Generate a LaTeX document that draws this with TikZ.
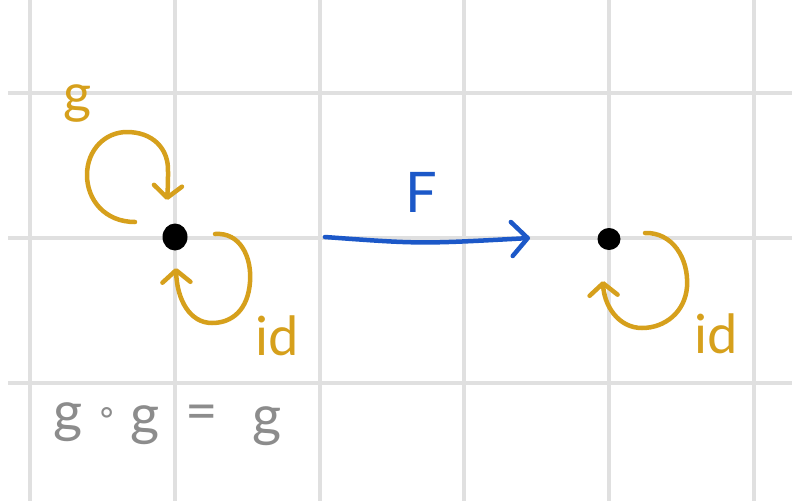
\documentclass[tikz,border=0pt]{standalone}
\usepackage{fontspec}
\setmainfont{Lato}
\newfontfamily\symfont{DejaVu Sans}
\usetikzlibrary{arrows.meta}
\definecolor{gold}{RGB}{214,160,28}
\definecolor{penblue}{RGB}{28,88,200}
\definecolor{pengray}{RGB}{140,140,140}
\definecolor{gridgray}{RGB}{224,224,224}
\tikzset{
  gridline/.style={draw=gridgray, line width=4pt},
  dot/.style={ellipse, fill=black, inner sep=0pt},
  loopline/.style={draw=gold, line width=4.5pt, line cap=round, line join=round,
    -{Straight Barb[length=12pt, width=28pt, line width=4.5pt, round]}},
  farrow/.style={draw=penblue, line width=4.5pt, line cap=round,
    -{Straight Barb[length=16pt, width=34pt, line width=4.5pt, round]}},
  goldlabel/.style={text=gold, font=\fontsize{54}{54}\selectfont, inner sep=0pt},
  graytext/.style={text=pengray, font=\fontsize{56}{56}\selectfont, inner sep=0pt},
}
\usetikzlibrary{shapes.geometric}
\begin{document}
\begin{tikzpicture}[x=1pt, y=-1pt]
\useasboundingbox (0,0) rectangle (792,501);
\fill[white] (0,0) rectangle (792,501);
% grid
\foreach \gx in {30,175,320,464,609,754}
  \draw[gridline] (\gx,0) -- (\gx,501);
\foreach \gy in {93,238,383}
  \draw[gridline] (8,\gy) -- (792,\gy);
% dots
\node[dot, minimum width=25pt, minimum height=27pt] (L) at (175,237) {};
\node[dot, minimum width=23pt, minimum height=22pt] (R) at (609,239) {};
% g loop
\coordinate (gs) at (135,222);
\coordinate (ge) at (167,200);
\draw[loopline] (gs) .. controls (105,222) and (87,200) .. (87,175)
  .. controls (87,150) and (105,132) .. (127,132)
  .. controls (152,132) and (169,148) .. (168,172)
  .. controls (168,185) .. (ge);
% left id loop
\coordinate (ls) at (215,234);
\coordinate (le) at (176,268);
\draw[loopline] (ls) .. controls (240,232) and (252,257) .. (250,282)
  .. controls (248,310) and (232,323) .. (212,323)
  .. controls (190,323) and (177,300) .. (le);
% right id loop
\coordinate (rs) at (645,233);
\coordinate (re) at (603,281);
\draw[loopline] (rs) .. controls (672,232) and (689,258) .. (687,287)
  .. controls (685,312) and (665,328) .. (642,328)
  .. controls (618,328) and (604,305) .. (re);
% F arrow
\coordinate (fs) at (325,237);
\coordinate (fe) at (530,238);
\draw[farrow] (fs) .. controls (420,244) .. (fe);
% labels
\node[goldlabel] (glab) at (78,104) {g};
\node[goldlabel] (idl) at (277,336) {id};
\node[goldlabel] (idr) at (716,334) {id};
\node[text=penblue, font=\fontsize{56}{56}\selectfont, inner sep=0pt] (flab) at (421,192) {F};
% equation
\node[graytext] (e1) at (68,422) {g};
\node[text=pengray, font=\symfont\fontsize{34}{34}\selectfont, inner sep=0pt] (e2) at (107,416) {∘};
\node[graytext] (e3) at (145,425) {g};
\node[graytext] (e4) at (202,418) {=};
\node[graytext] (e5) at (267,426) {g};
\end{tikzpicture}
\end{document}
